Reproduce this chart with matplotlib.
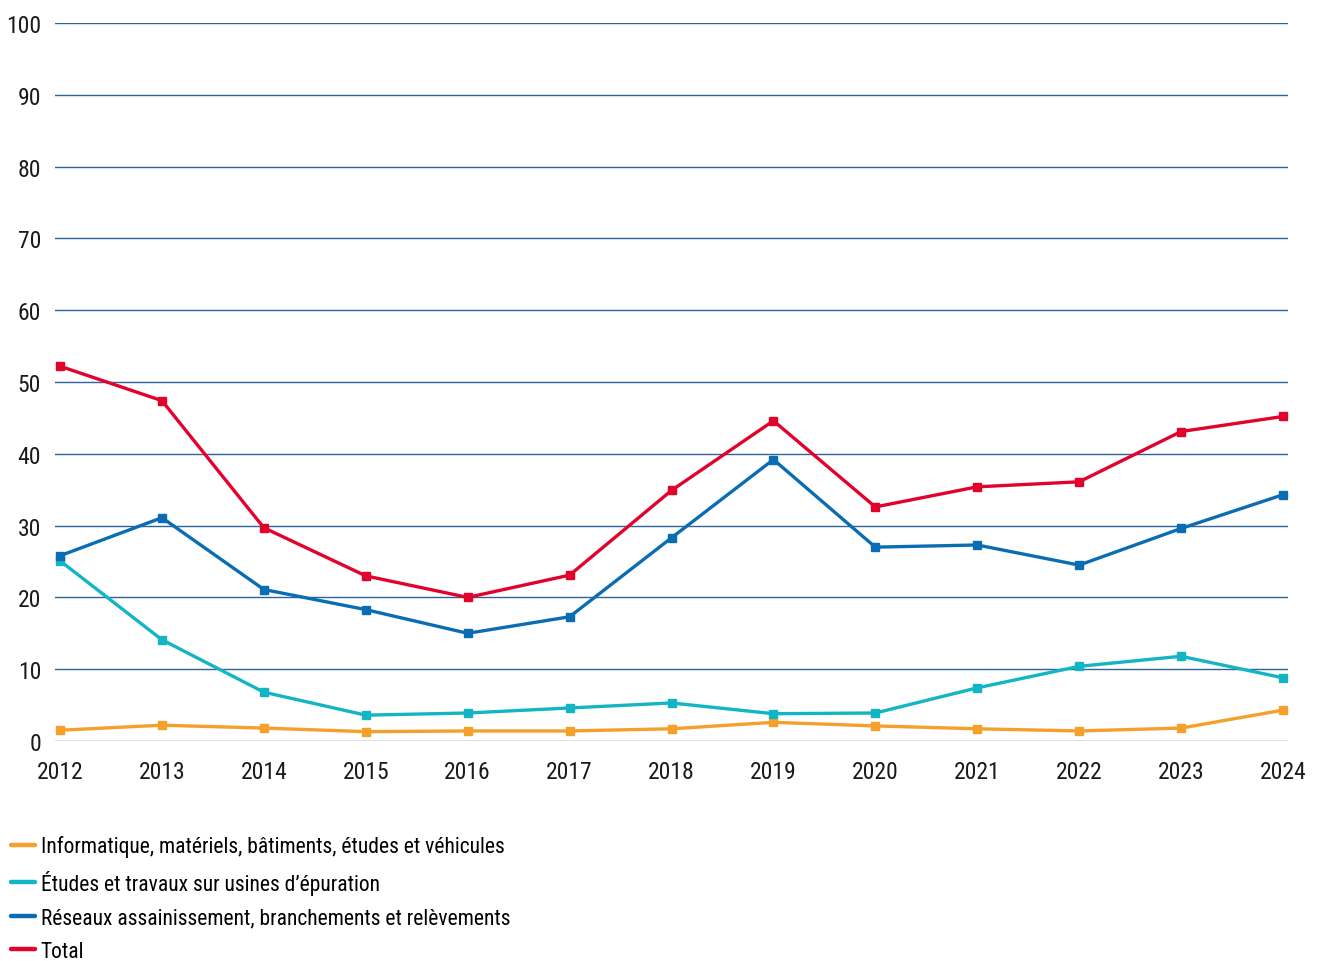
import matplotlib
matplotlib.use("Agg")
import matplotlib.pyplot as plt
from matplotlib.lines import Line2D

plt.rcParams['font.family'] = ['Roboto Condensed', 'Roboto', 'DejaVu Sans']

years = [2012, 2013, 2014, 2015, 2016, 2017, 2018, 2019, 2020, 2021, 2022, 2023, 2024]
informatique = [1.5, 2.2, 1.8, 1.3, 1.4, 1.4, 1.7, 2.6, 2.1, 1.7, 1.4, 1.8, 4.3]
usines = [25.1, 14.1, 6.8, 3.6, 3.9, 4.6, 5.3, 3.8, 3.9, 7.4, 10.4, 11.8, 8.8]
reseaux = [25.8, 31.1, 21.1, 18.3, 15.0, 17.3, 28.3, 39.2, 27.0, 27.3, 24.5, 29.6, 34.3]
total = [52.2, 47.4, 29.7, 23.0, 20.0, 23.1, 34.9, 44.6, 32.6, 35.4, 36.1, 43.1, 45.2]

labels = ["Informatique, matériels, bâtiments, études et véhicules",
          "Études et travaux sur usines d’épuration",
          "Réseaux assainissement, branchements et relèvements",
          "Total"]
colors = ["#f5a02a", "#13b5c4", "#0a6db3", "#e2032d"]
yticks = [0, 10, 20, 30, 40, 50, 60, 70, 80, 90, 100]

fig = plt.figure(figsize=(13.25, 9.62), dpi=100)
ax = fig.add_axes([55/1325, 1 - 742/962, 1233/1325, 718/962])

for series, c in zip([informatique, usines, reseaux, total], colors):
    ax.plot(years, series, color=c, lw=2.4, marker='s', markersize=6, clip_on=False, zorder=3)

ax.set_xlim(2012 - 5/101.9, 2024 + 5/101.9)
ax.set_ylim(0, 100)
ax.set_yticks(yticks)
ax.set_xticks(years)
ax.set_xticklabels([str(y) for y in years])
ax.yaxis.grid(True, color="#2f6397", lw=1.0)
ax.set_axisbelow(True)
for s in ax.spines.values():
    s.set_visible(False)
ax.tick_params(axis='both', length=0, labelsize=17, colors='#1a1a1a')
ax.tick_params(axis='y', pad=10)
ax.tick_params(axis='x', pad=14)

handles = [Line2D([0], [0], color=c, lw=3.2, solid_capstyle='round') for c in colors]
fig.legend(handles, labels, loc='upper left', bbox_to_anchor=(5/1325, 1 - 830/962),
           frameon=False, fontsize=15.5, handlelength=1.1, handletextpad=0.25,
           labelspacing=0.58, borderaxespad=0, borderpad=0.3)

fig.savefig("out.png", dpi=100)
